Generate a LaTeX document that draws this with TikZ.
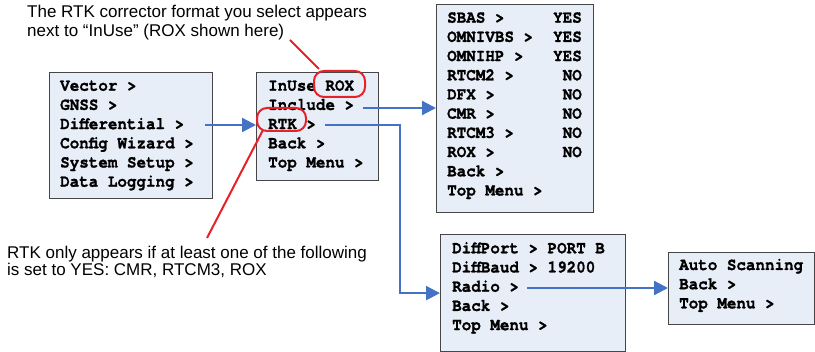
\documentclass[tikz,border=0pt]{standalone}
\usepackage{fontspec}
\setmainfont{Liberation Sans}
\setmonofont{texgyrecursor}[Extension=.otf, UprightFont=*-regular, BoldFont=*-bold, BoldFeatures={FakeBold=1.2}]
\usetikzlibrary{arrows.meta}
\definecolor{boxfill}{RGB}{232,238,247}
\definecolor{boxdraw}{RGB}{70,70,70}
\definecolor{arrblue}{RGB}{68,114,196}
\definecolor{annred}{RGB}{232,32,40}
\newcommand\tallmono[1]{\scalebox{1}[1.1]{#1}}
\tikzset{
  menubox/.style={draw=boxdraw, fill=boxfill, line width=1.2pt, anchor=north west, inner sep=0pt},
  mtxt/.style={font=\fontsize{15.9}{19}\selectfont\ttfamily\bfseries, anchor=base west, inner sep=0pt},
  mtxtr/.style={mtxt, anchor=base east},
  note/.style={font=\fontsize{17}{20}\selectfont, anchor=base west, inner sep=0pt},
  arr/.style={draw=arrblue, line width=2.2pt, -{Triangle[length=14pt,width=14pt]}},
  ring/.style={draw=annred, line width=2pt, rounded corners=10pt, inner sep=0pt},
  redline/.style={draw=annred, line width=2pt},
}
\begin{document}
\begin{tikzpicture}[x=1pt,y=1pt]
\useasboundingbox (0,0) rectangle (815,-352);
% boxes
\node[menubox, minimum width=163pt, minimum height=126pt] (b1) at (49,-72) {};
\node[menubox, minimum width=122pt, minimum height=108pt] (b2) at (256,-72) {};
\node[menubox, minimum width=157pt, minimum height=208pt] (b3) at (436,-4) {};
\node[menubox, minimum width=185pt, minimum height=117pt] (b4) at (440,-234) {};
\node[menubox, minimum width=146pt, minimum height=72pt] (b5) at (668,-252) {};
% box 1
\foreach \t [count=\i] in {Vector >, GNSS >, Differential >, Config Wizard >, System Setup >, Data Logging >}
  \node[mtxt] (a\i) at (60,{-90.7-19.2*(\i-1)}) {\tallmono{\t}};
% box 2
\foreach \t [count=\i] in {InUse ROX, Include >, RTK >, Back >, Top Menu >}
  \node[mtxt] (p\i) at (268,{-90.7-19.2*(\i-1)}) {\tallmono{\t}};
% box 3
\foreach \t [count=\i] in {SBAS >, OMNIVBS >, OMNIHP >, RTCM2 >, DFX >, CMR >, RTCM3 >, ROX >, Back >, Top Menu >}
  \node[mtxt] (c\i) at (447,{-22.7-19.2*(\i-1)}) {\tallmono{\t}};
\foreach \t [count=\i] in {YES, YES, YES, NO, NO, NO, NO, NO}
  \node[mtxtr] (cy\i) at (582,{-22.7-19.2*(\i-1)}) {\tallmono{\t}};
% box 4
\foreach \t [count=\i] in {DiffPort > PORT B, DiffBaud > 19200, Radio >, Back >, Top Menu >}
  \node[mtxt] (d\i) at (452,{-253.3-19.2*(\i-1)}) {\tallmono{\t}};
% box 5
\foreach \t [count=\i] in {Auto Scanning, Back >, Top Menu >}
  \node[mtxt] (e\i) at (679,{-270-19.2*(\i-1)}) {\tallmono{\t}};
% blue connectors
\coordinate (ds) at (205,-125);
\coordinate (is) at (363,-108);
\coordinate (rs) at (325,-125);
\coordinate (qs) at (527,-288);
\draw[arr] (ds) -- (ds -| b2.west);
\draw[arr] (is) -- (is -| b3.west);
\draw[arr] (rs) -- ++(75,0) |- (b4.west);
\draw[arr] (qs) -- (qs -| b5.west);
% red annotations
\node[ring, minimum width=51pt, minimum height=26pt] (rox) at (339.5,-84) {};
\node[ring, minimum width=49pt, minimum height=23pt] (rtk) at (281.5,-119.5) {};
\node[note] (n1) at (27,-17.3) {The RTK corrector format you select appears};
\node[note] (n2) at (27,-36.5) {next to “InUse” (ROX shown here)};
\node[note] (n3) at (7,-258.3) {RTK only appears if at least one of the following};
\node[note] (n4) at (7,-276) {is set to YES: CMR, RTCM3, ROX};
\coordinate (r1) at (290,-40);
\coordinate (r2) at (207,-238);
\draw[redline] (r1) -- ([xshift=6pt,yshift=1pt]rox.north west);
\draw[redline] (r2) -- ([xshift=7pt,yshift=2pt]rtk.south west);
\end{tikzpicture}
\end{document}
